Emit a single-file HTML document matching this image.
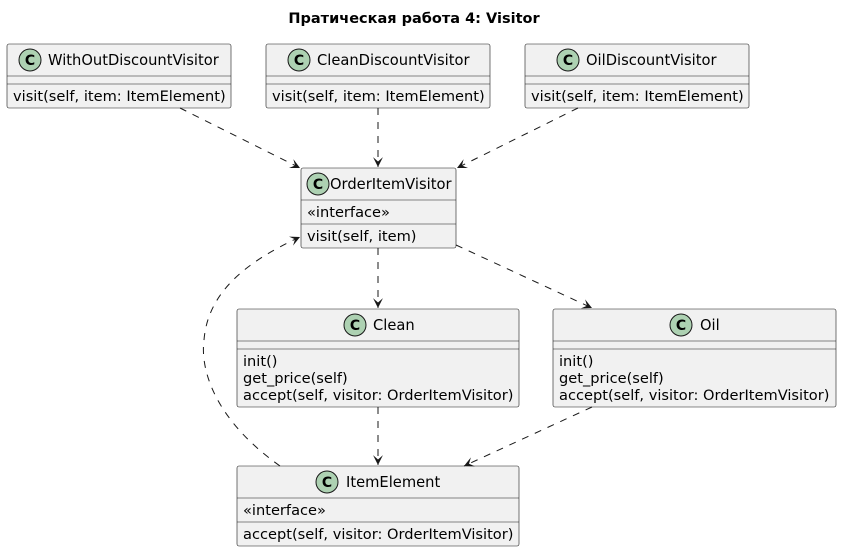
<!DOCTYPE html>
<html><head><meta charset="utf-8"><style>
body{margin:0;background:#fff}
text{font-family:"DejaVu Sans","Liberation Sans",sans-serif;fill:#000}
.b{fill:#F1F1F1;stroke:#181818;stroke-width:0.6}
.s{stroke:#181818;stroke-width:0.6}
.e{fill:none;stroke:#181818;stroke-width:1;stroke-dasharray:7,7}
.c{fill:#ADD1B2;stroke:#181818;stroke-width:1}
.n{font-size:14.7px}
.m{font-size:14.6px}
</style></head><body>
<svg width="842" height="552" viewBox="0 0 842 552" xmlns="http://www.w3.org/2000/svg">
<defs><marker id="a" viewBox="0 0 10 10" refX="9" refY="5" markerWidth="11" markerHeight="11" markerUnits="userSpaceOnUse" orient="auto"><path d="M0,0.5 L9,5 L0,9.5 L4,5 Z" fill="#181818"/></marker></defs>
<text x="414" y="23" text-anchor="middle" font-weight="bold" font-size="14.5">Пратическая работа 4: Visitor</text>

<g>
<rect class="b" x="7" y="44" width="224" height="64" rx="2"/>
<line class="s" x1="7" y1="76" x2="231" y2="76"/><line class="s" x1="7" y1="84" x2="231" y2="84"/>
<circle class="c" cx="30" cy="60" r="11"/><text x="30" y="65" text-anchor="middle" font-weight="bold" font-size="14">C</text>
<text class="n" x="48" y="65">WithOutDiscountVisitor</text>
<text class="m" x="13" y="101">visit(self, item: ItemElement)</text>
</g>
<g>
<rect class="b" x="266" y="44" width="224" height="64" rx="2"/>
<line class="s" x1="266" y1="76" x2="490" y2="76"/><line class="s" x1="266" y1="84" x2="490" y2="84"/>
<circle class="c" cx="299" cy="60" r="11"/><text x="299" y="65" text-anchor="middle" font-weight="bold" font-size="14">C</text>
<text class="n" x="317" y="65">CleanDiscountVisitor</text>
<text class="m" x="272" y="101">visit(self, item: ItemElement)</text>
</g>
<g>
<rect class="b" x="525" y="44" width="224" height="64" rx="2"/>
<line class="s" x1="525" y1="76" x2="749" y2="76"/><line class="s" x1="525" y1="84" x2="749" y2="84"/>
<circle class="c" cx="568" cy="60" r="11"/><text x="568" y="65" text-anchor="middle" font-weight="bold" font-size="14">C</text>
<text class="n" x="586" y="65">OilDiscountVisitor</text>
<text class="m" x="531" y="101">visit(self, item: ItemElement)</text>
</g>
<g>
<rect class="b" x="301" y="168" width="155" height="80" rx="2"/>
<line class="s" x1="301" y1="200" x2="456" y2="200"/><line class="s" x1="301" y1="224" x2="456" y2="224"/>
<circle class="c" cx="318" cy="184" r="11"/><text x="318" y="189" text-anchor="middle" font-weight="bold" font-size="14">C</text>
<text class="n" x="330" y="189">OrderItemVisitor</text>
<text class="m" x="307" y="217">«interface»</text>
<text class="m" x="307" y="241">visit(self, item)</text>
</g>
<g>
<rect class="b" x="237" y="309" width="282" height="98" rx="2"/>
<line class="s" x1="237" y1="341" x2="519" y2="341"/><line class="s" x1="237" y1="349" x2="519" y2="349"/>
<circle class="c" cx="355" cy="325" r="11"/><text x="355" y="330" text-anchor="middle" font-weight="bold" font-size="14">C</text>
<text class="n" x="373" y="330">Clean</text>
<text class="m" x="243" y="366">init()</text>
<text class="m" x="243" y="383">get_price(self)</text>
<text class="m" x="243" y="400">accept(self, visitor: OrderItemVisitor)</text>
</g>
<g>
<rect class="b" x="553" y="309" width="283" height="98" rx="2"/>
<line class="s" x1="553" y1="341" x2="836" y2="341"/><line class="s" x1="553" y1="349" x2="836" y2="349"/>
<circle class="c" cx="681" cy="325" r="11"/><text x="681" y="330" text-anchor="middle" font-weight="bold" font-size="14">C</text>
<text class="n" x="700" y="330">Oil</text>
<text class="m" x="559" y="366">init()</text>
<text class="m" x="559" y="383">get_price(self)</text>
<text class="m" x="559" y="400">accept(self, visitor: OrderItemVisitor)</text>
</g>
<g>
<rect class="b" x="237" y="466" width="282" height="80" rx="2"/>
<line class="s" x1="237" y1="498" x2="519" y2="498"/><line class="s" x1="237" y1="522" x2="519" y2="522"/>
<circle class="c" cx="327" cy="482" r="11"/><text x="327" y="487" text-anchor="middle" font-weight="bold" font-size="14">C</text>
<text class="n" x="346" y="487">ItemElement</text>
<text class="m" x="243" y="515">«interface»</text>
<text class="m" x="243" y="539">accept(self, visitor: OrderItemVisitor)</text>
</g>

<path class="e" d="M180,108 L300,168" marker-end="url(#a)"/>
<path class="e" d="M378,108 L378,167" marker-end="url(#a)"/>
<path class="e" d="M578,108 L457,168" marker-end="url(#a)"/>
<path class="e" d="M378,248 L378,308" marker-end="url(#a)"/>
<path class="e" d="M456,245 L592,308" marker-end="url(#a)"/>
<path class="e" d="M378,407 L378,465" marker-end="url(#a)"/>
<path class="e" d="M592,407 L464,466" marker-end="url(#a)"/>
<path class="e" d="M280,466 C215,420 200,370 204,340 C208,290 250,260 300,237" marker-end="url(#a)"/>
</svg>
</body></html>
